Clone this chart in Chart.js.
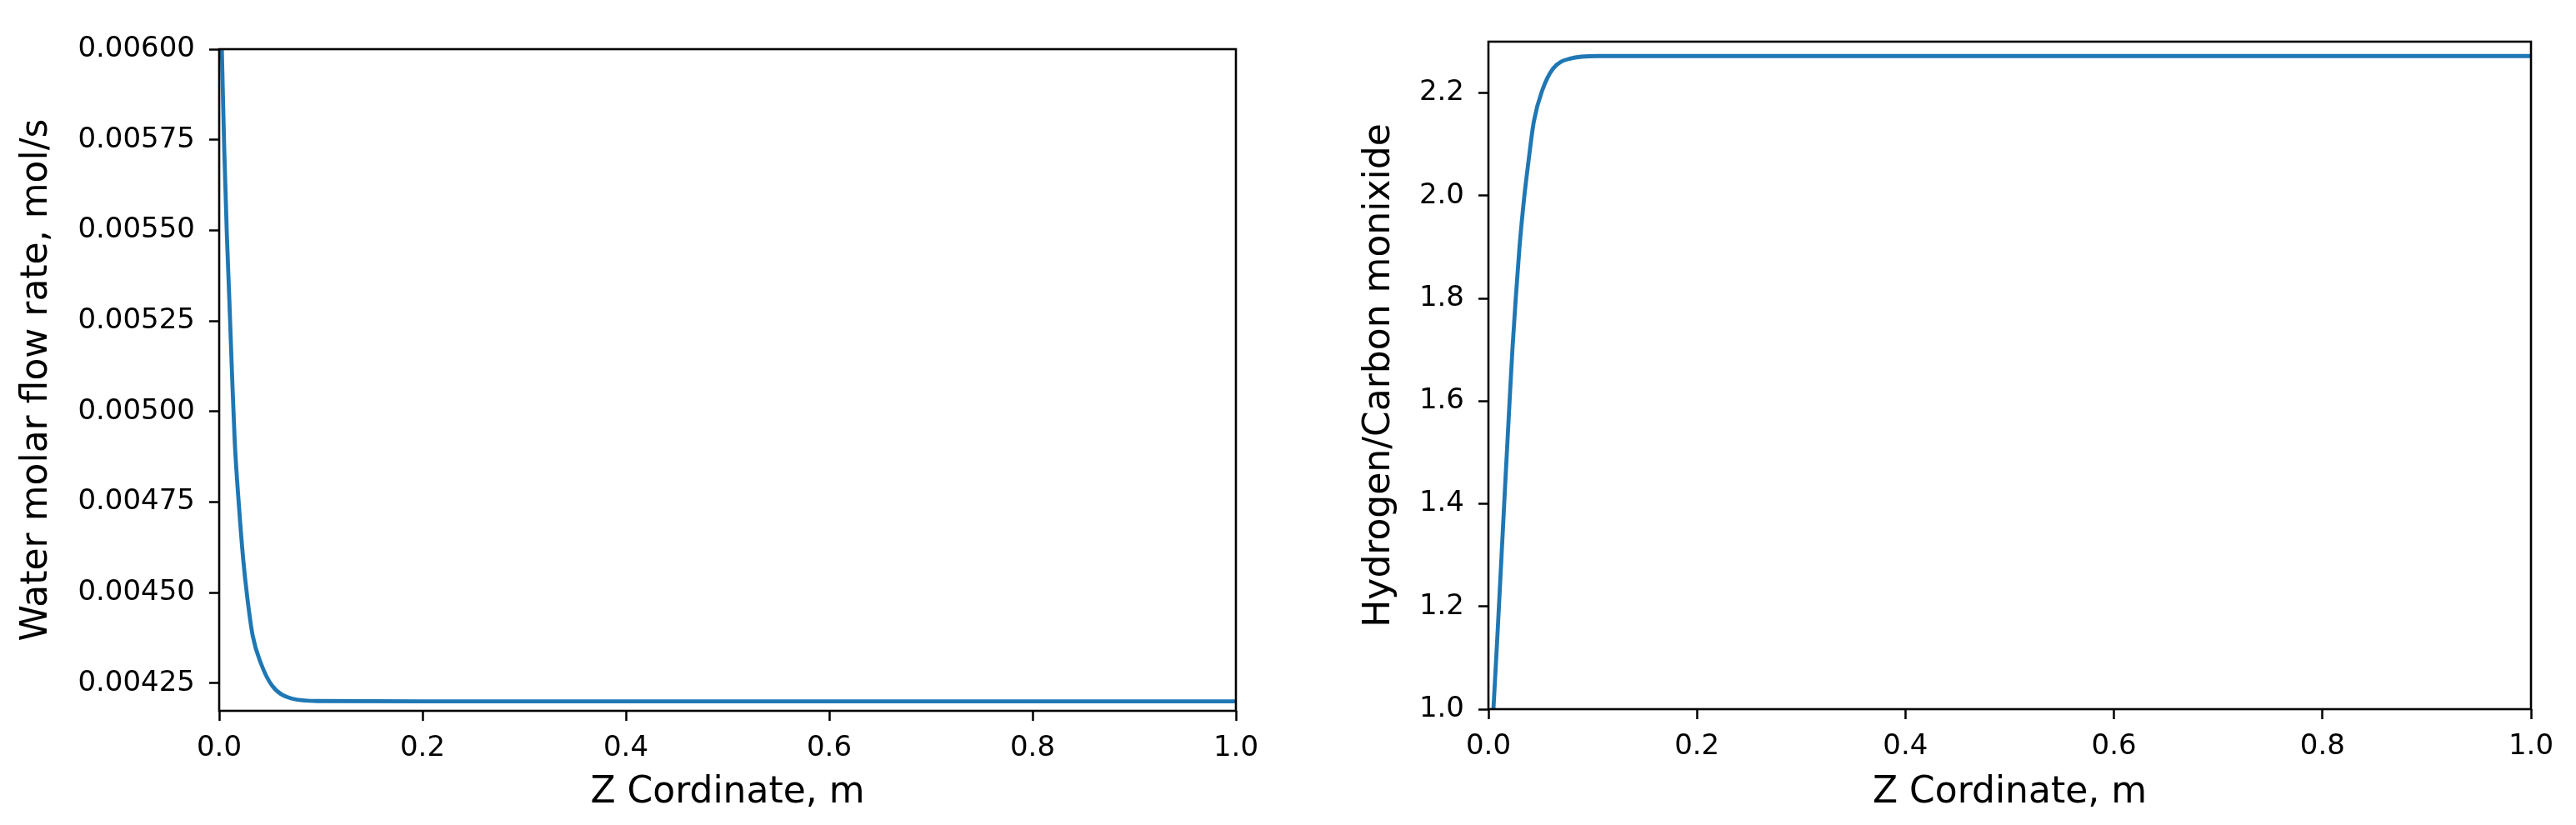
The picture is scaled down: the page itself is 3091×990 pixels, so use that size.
<!DOCTYPE html>
<html>
<head>
<meta charset="utf-8">
<title>Water flow and H2/CO ratio</title>
<script src="https://cdn.jsdelivr.net/npm/chart.js@4.4.1/dist/chart.umd.min.js"></script>
<style>
    html, body { margin: 0; background: #fff; }
    canvas { position: absolute; left: 0; top: 0; }
</style>
</head>
<body>
<canvas id="waterChart" width="3091" height="990"></canvas>
<canvas id="ratioChart" width="3091" height="990"></canvas>
<script>
// tick labels
const zTicks = [0, 0.2, 0.4, 0.6, 0.8, 1.0];
const waterTicks = [0.00425, 0.0045, 0.00475, 0.005, 0.00525, 0.0055, 0.00575, 0.006];
const ratioTicks = [1.0, 1.2, 1.4, 1.6, 1.8, 2.0, 2.2];

// left plot: water molar flow rate along the reactor
const waterZ = [0, 0.003, 0.005, 0.0075, 0.01, 0.0125, 0.0153, 0.0194, 0.0235, 0.0276, 0.033,
    0.0412, 0.0522, 0.0713, 0.0986, 0.2, 0.4, 0.6, 0.8, 1.0];
const waterFlow = [0.0063, 0.005952, 0.005722, 0.005492, 0.005308, 0.005113, 0.004917, 0.004741,
    0.004596, 0.004488, 0.004381, 0.004304, 0.004243, 0.004208, 0.004201, 0.0042, 0.0042, 0.0042,
    0.0042, 0.0042];

// right plot: hydrogen / carbon monoxide ratio
const ratioZ = [0, 0.0048, 0.0088, 0.0126, 0.0164, 0.0203, 0.023, 0.0262, 0.0298, 0.0345, 0.038,
    0.0436, 0.0516, 0.0622, 0.0782, 0.105, 0.2, 0.4, 0.6, 0.8, 1.0];
const ratioH2CO = [0.82, 1.0, 1.15, 1.3, 1.45, 1.6, 1.7, 1.8, 1.9, 2.0, 2.06, 2.145, 2.205,
    2.248, 2.267, 2.272, 2.272, 2.272, 2.272, 2.272, 2.272];

Chart.defaults.font.family = "'DejaVu Sans', sans-serif";
Chart.defaults.color = "#000";

// draws the four spines round the plot area
const framePlugin = {
    id: "frame",
    afterDraw(chart) {
        const { ctx, chartArea: a } = chart;
        ctx.save();
        ctx.strokeStyle = "#000";
        ctx.lineWidth = 2.6;
        ctx.strokeRect(a.left, a.top, a.right - a.left, a.bottom - a.top);
        ctx.restore();
    },
};

function makeChart(id, z, values, yTicks, yMin, yMax, yDigits, yTitle, box) {
    const ctx = document.getElementById(id).getContext("2d");
    return new Chart(ctx, {
        type: "scatter",
        data: {
            datasets: [{
                data: z.map((v, i) => ({ x: v, y: values[i] })),
                showLine: true,
                borderColor: "#1f77b4",
                borderWidth: 4.8,
                pointRadius: 0,
                cubicInterpolationMode: "monotone",
                clip: 0,
            }],
        },
        options: {
            responsive: false,
            animation: false,
            devicePixelRatio: 1,
            layout: { padding: { left: box.padLeft, top: box.top, right: 3091 - box.right, bottom: 0 } },
            plugins: { legend: { display: false }, tooltip: { enabled: false } },
            scales: {
                x: {
                    type: "linear",
                    min: 0,
                    max: 1,
                    afterBuildTicks: s => { s.ticks = zTicks.map(v => ({ value: v })); },
                    afterFit: s => { s.height = 990 - box.bottom; },
                    border: { display: false },
                    grid: { drawOnChartArea: false, tickLength: 12, tickWidth: 2.5, tickColor: "#000" },
                    ticks: {
                        font: { size: 34 },
                        padding: 13,
                        maxRotation: 0,
                        autoSkip: false,
                        callback: v => v.toFixed(1),
                    },
                    title: {
                        display: true,
                        text: "Z Cordinate, m",
                        font: { size: 44 },
                        padding: { top: 0, bottom: 11.6 },
                    },
                },
                y: {
                    type: "linear",
                    min: yMin,
                    max: yMax,
                    afterBuildTicks: s => { s.ticks = yTicks.map(v => ({ value: v })); },
                    afterFit: s => { s.width = box.left - box.padLeft; },
                    border: { display: false },
                    grid: { drawOnChartArea: false, tickLength: 12, tickWidth: 2.5, tickColor: "#000" },
                    ticks: {
                        font: { size: 34 },
                        padding: 17,
                        autoSkip: false,
                        callback: v => v.toFixed(yDigits),
                    },
                    title: {
                        display: true,
                        text: yTitle,
                        font: { size: 44 },
                        padding: { top: box.titleX - box.padLeft - 26.4, bottom: 0 },
                    },
                },
            },
        },
        plugins: [framePlugin],
    });
}

document.addEventListener("DOMContentLoaded", function () {
    makeChart("waterChart", waterZ, waterFlow, waterTicks, 0.004174, 0.006, 5,
        "Water molar flow rate, mol/s",
        { padLeft: 0, left: 263, top: 59, right: 1483, bottom: 853, titleX: 45 });

    makeChart("ratioChart", ratioZ, ratioH2CO, ratioTicks, 1.0, 2.3, 1,
        "Hydrogen/Carbon monixide",
        { padLeft: 1600, left: 1786, top: 50, right: 3037, bottom: 851, titleX: 1656 });
});
</script>
</body>
</html>
